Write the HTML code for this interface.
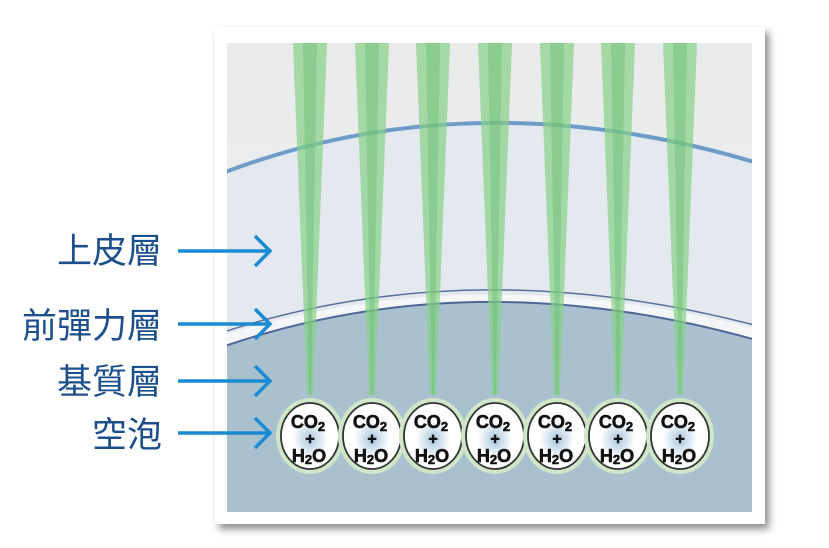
<!DOCTYPE html>
<html><head><meta charset="utf-8"><style>
body{margin:0;background:#fff;width:829px;height:548px;overflow:hidden}
svg{display:block}
</style></head><body>
<svg width="829" height="548" viewBox="0 0 829 548" xmlns="http://www.w3.org/2000/svg">
<defs>
<filter id="sh" x="-5%" y="-5%" width="115%" height="115%"><feDropShadow dx="4" dy="5" stdDeviation="4" flood-color="#000" flood-opacity="0.45"/></filter>
<linearGradient id="bg" x1="0" y1="0" x2="0" y2="1"><stop offset="0" stop-color="#e9eaeb"/><stop offset="1" stop-color="#f1f2f3"/></linearGradient>
<radialGradient id="bub" cx="0.5" cy="0.55" r="0.5"><stop offset="0" stop-color="#a9c6dc"/><stop offset="0.6" stop-color="#fff"/><stop offset="1" stop-color="#fff"/></radialGradient>
<clipPath id="c"><rect x="227" y="43" width="525" height="469"/></clipPath>
</defs>
<rect x="215" y="27" width="550" height="497" fill="#fff" filter="url(#sh)"/>
<g clip-path="url(#c)">
<rect x="227" y="43" width="525" height="469" fill="url(#bg)"/>
<path d="M200,182 Q470,70 780,170 L780,520 L200,520 Z" fill="#e3e9ef"/>
<path d="M200,182 Q470,70 780,170" fill="none" stroke="#6f9bc8" stroke-width="4"/>
<path d="M200,340 Q470,244 780,332" fill="none" stroke="#5a6f9a" stroke-width="1.5"/>
<path d="M200,343 Q470,250 780,335 L780,520 L200,520 Z" fill="#f5f6f7"/>
<path d="M200,355 Q470,253 780,347 L780,520 L200,520 Z" fill="#a9c1cf"/>
<path d="M200,355 Q470,253 780,347" fill="none" stroke="#4e6696" stroke-width="2"/>
<g fill="#86d086" fill-opacity="0.7">
<path d="M293,43 L327,43 L313,395 L307,395 Z"/>
<path d="M355,43 L389,43 L375,395 L369,395 Z"/>
<path d="M416,43 L450,43 L436,395 L430,395 Z"/>
<path d="M478,43 L512,43 L498,395 L492,395 Z"/>
<path d="M540,43 L574,43 L560,395 L554,395 Z"/>
<path d="M601,43 L635,43 L621,395 L615,395 Z"/>
<path d="M663,43 L697,43 L683,395 L677,395 Z"/>
</g>
<g fill="#5fb86a" fill-opacity="0.35">
<path d="M303,43 L317,43 L311,395 L309,395 Z"/>
<path d="M365,43 L379,43 L373,395 L371,395 Z"/>
<path d="M426,43 L440,43 L434,395 L432,395 Z"/>
<path d="M488,43 L502,43 L496,395 L494,395 Z"/>
<path d="M550,43 L564,43 L558,395 L556,395 Z"/>
<path d="M611,43 L625,43 L619,395 L617,395 Z"/>
<path d="M673,43 L687,43 L681,395 L679,395 Z"/>
</g>
<g font-family="Liberation Sans, sans-serif" font-weight="bold" font-size="18" text-anchor="middle" fill="#111">
<g id="b">
<ellipse cx="0" cy="0" rx="34" ry="38" fill="#cfe6c8"/>
<ellipse cx="0" cy="0" rx="29" ry="33" fill="url(#bub)" stroke="#333" stroke-width="1.8"/>
<text x="-2" y="-8" stroke="#111" stroke-width="0.6">CO<tspan font-size="13" dy="3">2</tspan></text>
<text x="0" y="8" font-size="16" stroke="#111" stroke-width="0.6">+</text>
<text x="-1" y="26" stroke="#111" stroke-width="0.6">H<tspan font-size="13" dy="2">2</tspan><tspan dy="-2">O</tspan></text>
</g>
</g>
</g>
<g font-family="Liberation Sans, sans-serif" font-weight="bold" font-size="18" text-anchor="middle" fill="#111">
<use href="#b" x="310" y="436"/><use href="#b" x="372" y="436"/><use href="#b" x="433" y="436"/><use href="#b" x="495" y="436"/><use href="#b" x="557" y="436"/><use href="#b" x="618" y="436"/><use href="#b" x="680" y="436"/>
</g>
<g font-family="Liberation Sans, 'Noto Sans CJK TC', sans-serif" font-size="35" fill="#1d4f8c" text-anchor="end">
<text x="162" y="263">上皮層</text>
<text x="162" y="338">前彈力層</text>
<text x="162" y="394">基質層</text>
<text x="162" y="447">空泡</text>
</g>
<g stroke="#1a8ad3" stroke-width="3.5" fill="none">
<path d="M178,251 H270 M255,236 L270,251 L255,266"/>
<path d="M178,324 H270 M255,309 L270,324 L255,339"/>
<path d="M178,381 H270 M255,366 L270,381 L255,396"/>
<path d="M178,433 H270 M255,418 L270,433 L255,448"/>
</g>
</svg>
</body></html>
